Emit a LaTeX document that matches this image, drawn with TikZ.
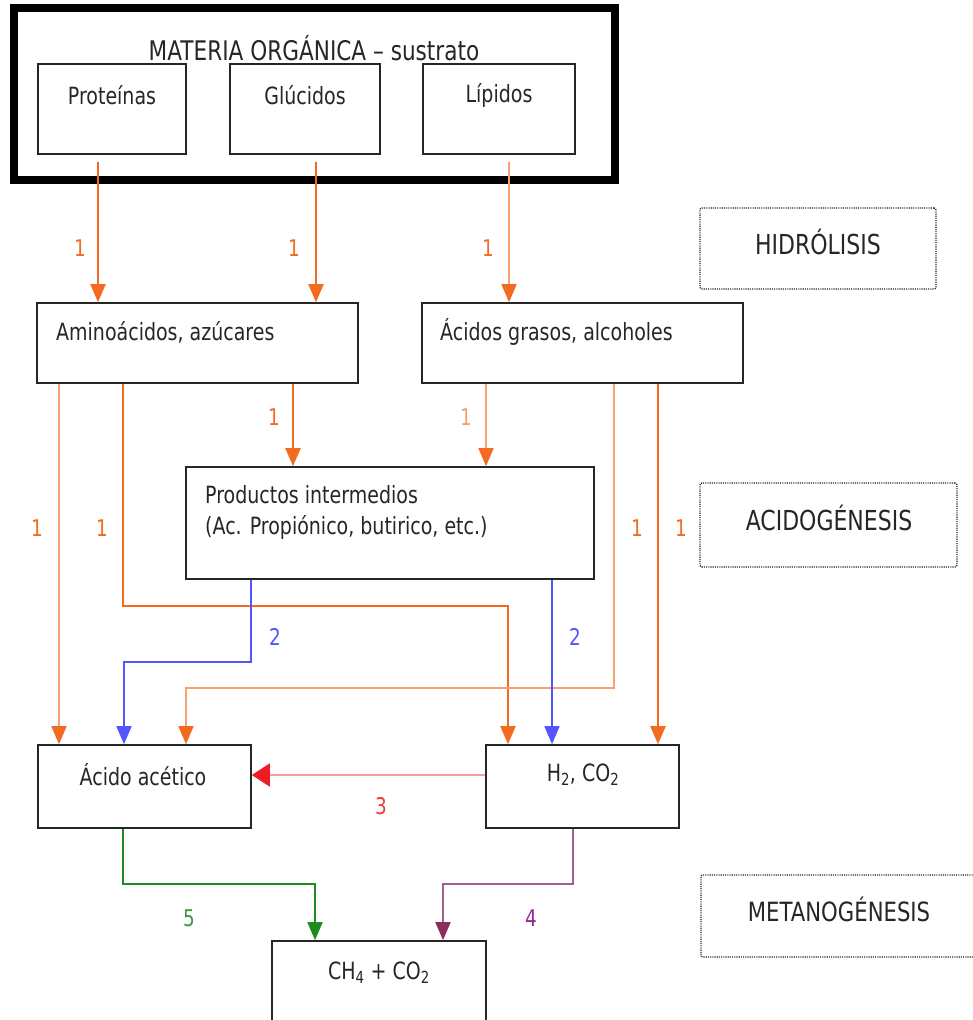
\documentclass[tikz,border=0pt]{standalone}
\usepackage{fontspec}
\setmainfont{DejaVu Sans}[FakeStretch=0.8]
\usetikzlibrary{arrows.meta}
\definecolor{dorange}{HTML}{F26B21}
\definecolor{lorange}{HTML}{F8A070}
\definecolor{fblue}{HTML}{5555FF}
\definecolor{pinkline}{HTML}{F4A0A0}
\definecolor{fred}{HTML}{EE1C25}
\definecolor{lred}{HTML}{F03C3C}
\definecolor{fgreen}{HTML}{1E8C1E}
\definecolor{lgreen}{HTML}{3C9A3C}
\definecolor{pline}{HTML}{A0608A}
\definecolor{phead}{HTML}{8C2E5A}
\definecolor{lpurple}{HTML}{8A2A8A}
\begin{document}
\begin{tikzpicture}[x=1pt,y=-1pt,
  box/.style={draw=black!85, line width=1.6pt, rectangle, inner sep=0pt},
  phase/.style={draw=black!85, line width=1.4pt, dash pattern=on 1.1pt off 1.1pt, rounded corners=2pt, rectangle, inner sep=0pt},
  txt/.style={font=\fontsize{23.75}{31}\selectfont, text=black!85, inner sep=0pt},
  ttl/.style={font=\fontsize{27}{32}\selectfont, text=black!85, inner sep=0pt},
  num/.style={font=\fontsize{23}{27}\selectfont, inner sep=0pt},
  tipo/.tip={Triangle[width=15pt,length=18pt,color=dorange]},
  oarr/.style={draw=dorange, line width=2pt, -tipo},
  larr/.style={draw=lorange, line width=1.5pt, -tipo},
  barr/.style={draw=fblue, line width=1.6pt, -{Triangle[width=15pt,length=18pt,color=fblue]}},
  rarr/.style={draw=pinkline, line width=1.8pt, -{Triangle[width=23pt,length=18pt,color=fred]}},
  garr/.style={draw=fgreen, line width=1.6pt, -{Triangle[width=15pt,length=18pt,color=fgreen]}},
  parr/.style={draw=pline, line width=1.6pt, -{Triangle[width=15pt,length=18pt,color=phead]}}
]
\useasboundingbox (0,0) rectangle (973,1020);
\fill[white] (0,0) rectangle (973,1020);

% column / row markers
\coordinate (c59) at (59,0);
\coordinate (c123) at (123,0);
\coordinate (c124) at (124,0);
\coordinate (c186) at (186,0);
\coordinate (c251) at (251,0);
\coordinate (c293) at (293,0);
\coordinate (c315) at (315,0);
\coordinate (c443) at (443,0);
\coordinate (c486) at (486,0);
\coordinate (c508) at (508,0);
\coordinate (c552) at (552,0);
\coordinate (c573) at (573,0);
\coordinate (c614) at (614,0);
\coordinate (c658) at (658,0);
\coordinate (r606) at (0,606);
\coordinate (r662) at (0,662);
\coordinate (r688) at (0,688);
\coordinate (r775) at (0,775);
\coordinate (r884) at (0,884);
\coordinate (s1) at (98,162);
\coordinate (s2) at (316,162);
\coordinate (s3) at (509,162);

% outer box
\node[draw=black, line width=8pt, rectangle, inner sep=0pt, minimum width=601pt, minimum height=172pt] (mat) at (314.5,94) {};
\node[ttl] (mattxt) at (314,48) {MATERIA ORGÁNICA – sustrato};

\node[box, minimum width=148pt, minimum height=90pt] (prot) at (112,109) {};
\node[box, minimum width=150pt, minimum height=90pt] (gluc) at (305,109) {};
\node[box, minimum width=152pt, minimum height=90pt] (lip) at (499,109) {};
\node[txt] (prottxt) at (112,95) {Proteínas};
\node[txt] (gluctxt) at (305,95) {Glúcidos};
\node[txt] (liptxt) at (499,95) {Lípidos};

\node[box, minimum width=321pt, minimum height=80pt] (ami) at (197.5,343) {};
\node[box, minimum width=321pt, minimum height=80pt] (acg) at (582.5,343) {};
\node[txt, anchor=west] (amitxt) at (56,332) {Aminoácidos, azúcares};
\node[txt, anchor=west] (acgtxt) at (440,332) {Ácidos grasos, alcoholes};

\node[box, minimum width=408pt, minimum height=112pt] (prod) at (390,523) {};
\node[txt, anchor=west, align=left] (prodtxt) at (205,512.5) {Productos intermedios\\(Ac. Propiónico, butirico, etc.)};

\node[box, minimum width=213pt, minimum height=83pt] (aac) at (144.5,786.5) {};
\node[box, minimum width=193pt, minimum height=83pt] (h2) at (582.5,786.5) {};
\node[txt] (aactxt) at (143,775) {Ácido acético};
\node[txt] (h2txt) at (583,775) {H\textsubscript{2}, CO\textsubscript{2}};

\node[box, minimum width=214pt, minimum height=100pt] (ch4) at (379,991) {};
\node[txt] (ch4txt) at (379,973) {CH\textsubscript{4} + CO\textsubscript{2}};

% phase boxes
\node[phase, minimum width=236pt, minimum height=81pt] (hid) at (818,248.5) {};
\node[txt, font=\fontsize{27.5}{32}\selectfont] (hidtxt) at (818,242) {HIDRÓLISIS};
\node[phase, minimum width=257pt, minimum height=84pt] (aci) at (828.5,525) {};
\node[txt, font=\fontsize{27.5}{32}\selectfont] (acitxt) at (829,518) {ACIDOGÉNESIS};
\node[phase, minimum width=300pt, minimum height=82pt] (met) at (851,916) {};
\node[txt, font=\fontsize{26.5}{32}\selectfont] (mettxt) at (839,909) {METANOGÉNESIS};

% hydrolysis arrows
\draw[oarr] (s1) -- (s1 |- ami.north);
\draw[oarr] (s2) -- (s2 |- ami.north);
\draw[larr] (s3) -- (s3 |- acg.north);
\node[num, text=dorange] (n1) at (80,248) {1};
\node[num, text=dorange] (n2) at (294,248) {1};
\node[num, text=dorange] (n3) at (488,248) {1};

% acidogenesis arrows
\draw[oarr] (ami.south -| c293) -- (c293 |- prod.north);
\draw[larr] (acg.south -| c486) -- (c486 |- prod.north);
\node[num, text=dorange] (n4) at (274,417) {1};
\node[num, text=lorange] (n5) at (466,417) {1};

\draw[larr] (ami.south -| c59) -- (c59 |- aac.north);
\draw[oarr] (ami.south -| c123) -- (c123 |- r606) -| (h2.north -| c508);
\draw[larr] (acg.south -| c614) -- (c614 |- r688) -| (aac.north -| c186);
\draw[oarr] (acg.south -| c658) -- (c658 |- h2.north);
\node[num, text=dorange] (n6) at (37,528) {1};
\node[num, text=dorange] (n7) at (102,528) {1};
\node[num, text=dorange] (n8) at (637,528) {1};
\node[num, text=dorange] (n9) at (681,528) {1};

% acetogenesis (blue)
\draw[barr] (prod.south -| c251) -- (c251 |- r662) -| (aac.north -| c124);
\draw[barr] (prod.south -| c552) -- (c552 |- h2.north);
\node[num, text=fblue] (n10) at (275,637) {2};
\node[num, text=fblue] (n11) at (575,637) {2};

% homoacetogenesis (red)
\draw[rarr] (h2.west |- r775) -- (aac.east |- r775);
\node[num, text=lred] (n12) at (381,806) {3};

% methanogenesis
\draw[garr] (aac.south -| c123) -- (c123 |- r884) -| (ch4.north -| c315);
\draw[parr] (h2.south -| c573) -- (c573 |- r884) -| (ch4.north -| c443);
\node[num, text=lgreen] (n13) at (189,918) {5};
\node[num, text=lpurple] (n14) at (531,918) {4};
\end{tikzpicture}
\end{document}
